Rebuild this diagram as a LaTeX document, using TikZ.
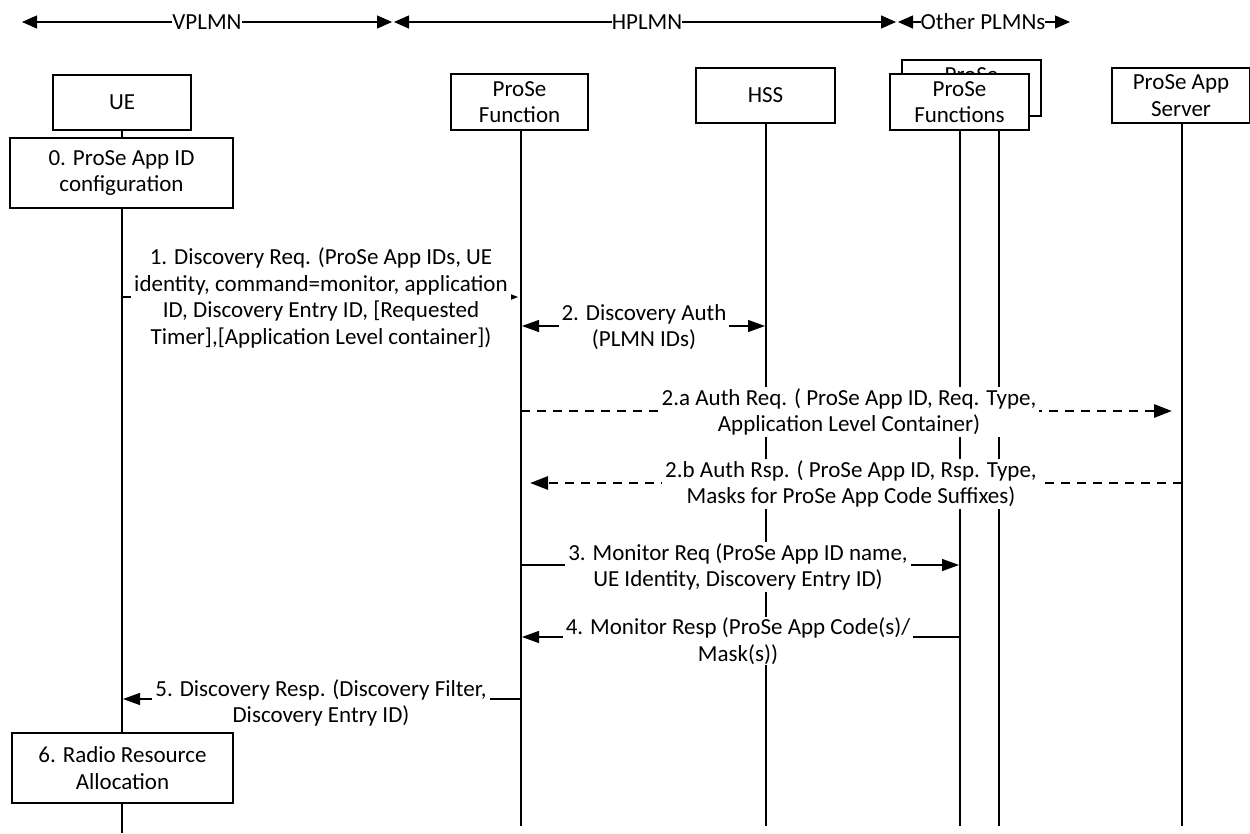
\documentclass[tikz,border=0pt]{standalone}
\usepackage{fontspec}
\setmainfont{Carlito}
\usetikzlibrary{arrows.meta}
\begin{document}
\begin{tikzpicture}[x=1pt,y=-1pt,
  every node/.style={font=\fontsize{23}{26.5}\selectfont},
  box/.style={draw, line width=1.2pt, fill=white, align=center, inner sep=0pt},
  life/.style={line width=1.1pt},
  lbl/.style={fill=white, align=center, inner xsep=3pt, inner ysep=1pt},
  hdr/.style={line width=1.2pt, {Triangle[length=15pt,width=13pt]}-{Triangle[length=15pt,width=13pt]}},
  msg/.style={line width=1.3pt, -{Triangle[length=17pt,width=12pt]}},
  bimsg/.style={line width=1.3pt, {Triangle[length=17pt,width=12pt]}-{Triangle[length=17pt,width=12pt]}},
  tinymsg/.style={line width=1.1pt, -{Triangle[length=8pt,width=6pt]}},
  dmsg/.style={line width=2.7pt, dash pattern=on 9pt off 7pt, -{Triangle[length=18pt,width=13pt]}}]
\useasboundingbox (0,0) rectangle (1250,834);

% header
\coordinate (v1) at (22,22); \coordinate (v2) at (392,22);
\coordinate (h1) at (394,22); \coordinate (h2) at (896,22);
\coordinate (o1) at (898,22); \coordinate (o2) at (1070,22);
\draw[hdr] (v1) -- (v2);
\draw[hdr] (h1) -- (h2);
\draw[hdr] (o1) -- (o2);
\node[fill=white, inner xsep=0pt, inner ysep=1pt] (vplmn) at (207,22) {VPLMN};
\node[fill=white, inner xsep=0pt, inner ysep=1pt] (hplmn) at (647,22) {HPLMN};
\node[fill=white, inner xsep=0pt, inner ysep=1pt] (oplmn) at (983,22) {Other PLMNs};

% lifeline coordinates
\coordinate (ueA) at (122,130); \coordinate (ueB) at (122,138);
\coordinate (ueC) at (122,208); \coordinate (ueD) at (122,733);
\coordinate (ueE) at (122,803); \coordinate (ueF) at (122,833);
\coordinate (pfT) at (521,130); \coordinate (pfB) at (521,826);
\coordinate (hsT) at (766,123); \coordinate (hsB) at (766,826);
\coordinate (faT) at (960,130); \coordinate (faB) at (960,826);
\coordinate (fbT) at (999,130); \coordinate (fbB) at (999,826);
\coordinate (asT) at (1182,123); \coordinate (asB) at (1182,826);

\draw[life] (ueA) -- (ueB);
\draw[life] (ueC) -- (ueD);
\draw[life] (ueE) -- (ueF);
\draw[life] (pfT) -- (pfB);
\draw[life] (hsT) -- (hsB);
\draw[life] (faT) -- (faB);
\draw[life] (fbT) -- (fbB);
\draw[life] (asT) -- (asB);

% boxes
\node[box, minimum width=138pt, minimum height=55pt] (ue) at (122,102.5) {UE};
\node[box, minimum width=223pt, minimum height=70pt] (cfg) at (121.5,173) {0. ProSe App ID\\configuration};
\node[box, minimum width=137pt, minimum height=56pt] (pf) at (519.5,102) {ProSe\\Function};
\node[box, minimum width=139pt, minimum height=55pt] (hss) at (765.5,95.5) {HSS};
\node[box, minimum width=139pt, minimum height=56pt] (pfsback) at (971.5,88) {ProSe\\Functions};
\node[box, minimum width=139pt, minimum height=56pt] (pfs) at (959.5,102) {ProSe\\Functions};
\node[box, minimum width=138pt, minimum height=55pt] (as) at (1181,95.5) {ProSe App\\Server};
\node[box, minimum width=221pt, minimum height=70pt] (rra) at (122.5,768) {6. Radio Resource\\Allocation};

% message end points
\coordinate (m1a) at (122,297); \coordinate (m1b) at (518,297);
\coordinate (m2a) at (522,326); \coordinate (m2b) at (765,326);
\coordinate (m3a) at (521,411); \coordinate (m3b) at (1172,411);
\coordinate (m4a) at (1182,483); \coordinate (m4b) at (530,483);
\coordinate (m5a) at (521,565); \coordinate (m5b) at (959,565);
\coordinate (m6a) at (960,637); \coordinate (m6b) at (522,637);
\coordinate (m7a) at (521,699); \coordinate (m7b) at (123,699);

% messages
\draw[tinymsg] (m1a) -- (m1b);
\draw[bimsg] (m2a) -- (m2b);
\draw[dmsg] (m3a) -- (m3b);
\draw[dmsg] (m4a) -- (m4b);
\draw[msg] (m5a) -- (m5b);
\draw[msg] (m6a) -- (m6b);
\draw[msg] (m7a) -- (m7b);

% labels
\node[lbl] (l1) at (321,298) {1. Discovery Req. (ProSe App IDs, UE\\identity, command=monitor, application\\ID, Discovery Entry ID, [Requested\\Timer],[Application Level container])};
\node[lbl] (l2) at (644,327) {2. Discovery Auth\\(PLMN IDs)};
\node[lbl] (l3) at (849,412) {2.a Auth Req. ( ProSe App ID, Req. Type,\\Application Level Container)};
\node[lbl] (l4) at (851,484) {2.b Auth Rsp. ( ProSe App ID, Rsp. Type,\\Masks for ProSe App Code Suffixes)};
\node[lbl] (l5) at (738,567) {3. Monitor Req (ProSe App ID name,\\UE Identity, Discovery Entry ID)};
\node[lbl] (l6) at (738,641) {4. Monitor Resp (ProSe App Code(s)/\\Mask(s))};
\node[lbl] (l7) at (321,703) {5. Discovery Resp. (Discovery Filter,\\Discovery Entry ID)};
\end{tikzpicture}
\end{document}
